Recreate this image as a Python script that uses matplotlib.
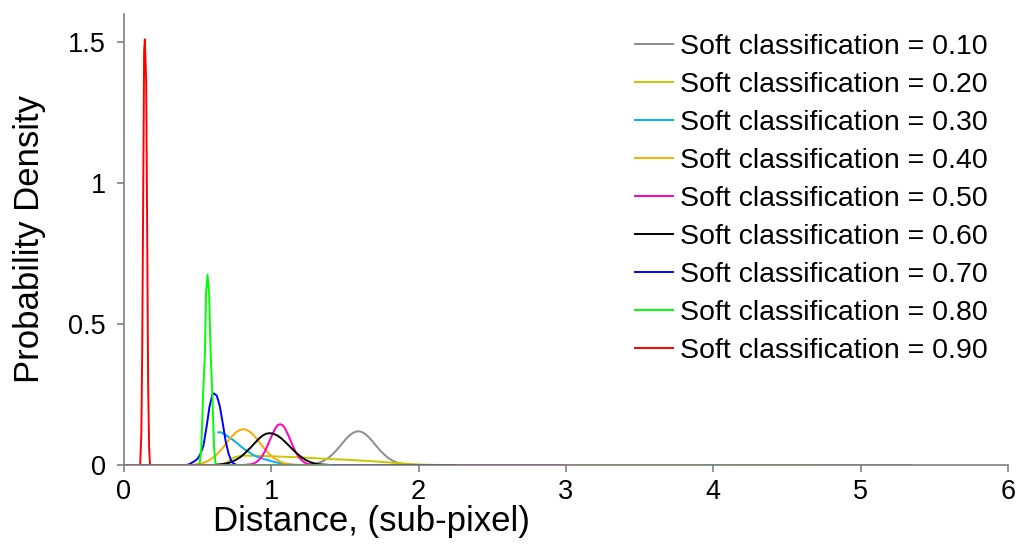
import numpy as np
import matplotlib
matplotlib.use("Agg")
from matplotlib import pyplot as plt

plt.rcParams['font.family'] = ['Liberation Sans', 'DejaVu Sans']

labels = ['Soft classification = 0.10', 'Soft classification = 0.20',
          'Soft classification = 0.30', 'Soft classification = 0.40',
          'Soft classification = 0.50', 'Soft classification = 0.60',
          'Soft classification = 0.70', 'Soft classification = 0.80',
          'Soft classification = 0.90']
colors = ['#8c8c8c', '#c8c800', '#00b0f0', '#ffaa00', '#ff00bf',
          '#000000', '#0000ff', '#00ff00', '#ff0000']

# curves (distance, density)
x_010 = [0, 1.20, 1.24, 1.265, 1.29, 1.315, 1.34, 1.365, 1.39, 1.415, 1.44, 1.465, 1.49, 1.515, 1.54, 1.565,
         1.59, 1.615, 1.64, 1.665, 1.69, 1.715, 1.74, 1.765, 1.79, 1.815, 1.84, 1.865, 1.89, 1.915, 1.94, 2.00, 5.34]
y_010 = [0, 0, .001, .002, .004, .007, .011, .018, .026, .038, .051, .066, .082, .097, .109, .117,
         .120, .117, .109, .097, .082, .066, .051, .038, .026, .018, .011, .007, .004, .002, .001, 0, 0]

x_020 = [0, 0.65, 0.70, 0.75, 0.80, 0.90, 1.00, 1.10, 1.20, 1.30, 1.40, 1.50, 1.60, 1.70, 1.80, 1.90, 2.00, 2.10, 2.20, 4.73]
y_020 = [0, 0, 0.010, 0.028, 0.033, 0.033, 0.031, 0.029, 0.027, 0.024, 0.021, 0.019, 0.016, 0.013, 0.009, 0.005, 0.002, 0.0005, 0, 0]

x_030 = [0.64, 0.66, 0.70, 0.74, 0.78, 0.81, 0.85, 0.88, 0.92, 0.97, 1.02, 1.06, 1.10, 1.15, 1.20, 4.05]
y_030 = [0.116, 0.116, 0.103, 0.089, 0.072, 0.059, 0.045, 0.035, 0.026, 0.018, 0.011, 0.006, 0.003, 0.001, 0, 0]

x_040 = [0, 0.40, 0.46, 0.485, 0.51, 0.535, 0.56, 0.585, 0.61, 0.635, 0.66, 0.685, 0.71, 0.735, 0.76, 0.785,
         0.81, 0.835, 0.86, 0.885, 0.91, 0.935, 0.96, 0.985, 1.01, 1.035, 1.06, 1.085, 1.11, 1.135, 1.16, 1.22, 3.93]
y_040 = [0, 0, .001, .002, .004, .007, .012, .019, .028, .040, .054, .070, .087, .103, .116, .124,
         .127, .124, .116, .103, .087, .070, .054, .040, .028, .019, .012, .007, .004, .002, .001, 0, 0]

x_050 = [0, 0.80, 0.85, 0.8675, 0.885, 0.9025, 0.92, 0.9375, 0.955, 0.9725, 0.99, 1.0075, 1.025, 1.0425,
         1.06, 1.0775, 1.095, 1.1125, 1.13, 1.1475, 1.165, 1.1825, 1.20, 1.2175, 1.235, 1.2525, 1.27, 1.32, 2.99]
y_050 = [0, 0, .002, .003, .006, .012, .020, .031, .047, .066, .088, .109, .128, .141,
         .145, .141, .128, .109, .088, .066, .047, .031, .020, .012, .006, .003, .002, 0, 0]

x_060 = [0, 0.60, 0.64, 0.665, 0.69, 0.715, 0.74, 0.765, 0.79, 0.815, 0.84, 0.865, 0.89, 0.915, 0.94, 0.965,
         0.99, 1.015, 1.04, 1.065, 1.09, 1.115, 1.14, 1.165, 1.19, 1.215, 1.24, 1.265, 1.29, 1.315, 1.34, 1.40, 2.25]
y_060 = [0, 0, .002, .003, .005, .008, .013, .020, .028, .039, .052, .065, .079, .093, .104, .111,
         .113, .111, .105, .096, .084, .071, .058, .045, .034, .024, .016, .010, .006, .003, .002, 0, 0]

x_070 = [0, 0.42, 0.44, 0.46, 0.48, 0.50, 0.52, 0.54, 0.56, 0.58, 0.60, 0.61, 0.63, 0.65, 0.67, 0.69, 0.71, 0.73, 0.75, 0.77, 1.82]
y_070 = [0, 0, 0.002, 0.008, 0.014, 0.022, 0.040, 0.070, 0.133, 0.205, 0.250, 0.254, 0.246, 0.210, 0.150, 0.085, 0.040, 0.012, 0.003, 0, 0]

x_080 = [0.45, 0.50, 0.515, 0.525, 0.537, 0.55, 0.557, 0.567, 0.578, 0.588, 0.60, 0.611, 0.62, 0.63, 1.40]
y_080 = [0, 0, 0.008, 0.060, 0.250, 0.400, 0.610, 0.675, 0.610, 0.400, 0.250, 0.065, 0.010, 0, 0]

x_090 = [0, 0.11, 0.118, 0.124, 0.131, 0.137, 0.142, 0.151, 0.158, 0.164, 0.171, 0.177, 0.65]
y_090 = [0, 0, 0.11, 0.41, 0.99, 1.47, 1.51, 1.36, 0.80, 0.29, 0.06, 0, 0]

xs = [x_010, x_020, x_030, x_040, x_050, x_060, x_070, x_080, x_090]
ys = [y_010, y_020, y_030, y_040, y_050, y_060, y_070, y_080, y_090]

fig = plt.figure(figsize=(10.21, 5.44), dpi=100)
ax = fig.add_axes([0.1214, 0.1452, 0.8659, 0.8291])

for x, y, c, lab in zip(xs, ys, colors, labels):
    ax.plot(x, y, color=c, lw=1.4, label=lab)

ax.set_xlim(0, 6)
ax.set_ylim(0, 1.6)
ax.set_xticks([0, 1, 2, 3, 4, 5, 6])
ax.set_yticks([0, 0.5, 1, 1.5])
ax.set_yticklabels(['0', '0.5', '1', '1.5'])

for side in ['top', 'right']:
    ax.spines[side].set_visible(False)
for side in ['left', 'bottom']:
    ax.spines[side].set_color('#808080')
    ax.spines[side].set_linewidth(1.2)
ax.tick_params(colors='#808080', labelcolor='black', labelsize=19.5, length=5, width=1.2)
ax.tick_params(axis='x', pad=5)
ax.tick_params(axis='y', pad=8)

ax.set_xlabel('Distance, (sub-pixel)', fontsize=25)
ax.xaxis.set_label_coords(0.28, -0.088)
ax.set_ylabel('Probability Density', fontsize=25)
ax.yaxis.set_label_coords(-0.088, 0.5)

ax.legend(loc='upper right', bbox_to_anchor=(1.0, 1.0), frameon=False, fontsize=20.5,
          handlelength=1.35, handletextpad=0.25, labelspacing=0.42, borderaxespad=0.3)

fig.savefig('out.png', dpi=100)
